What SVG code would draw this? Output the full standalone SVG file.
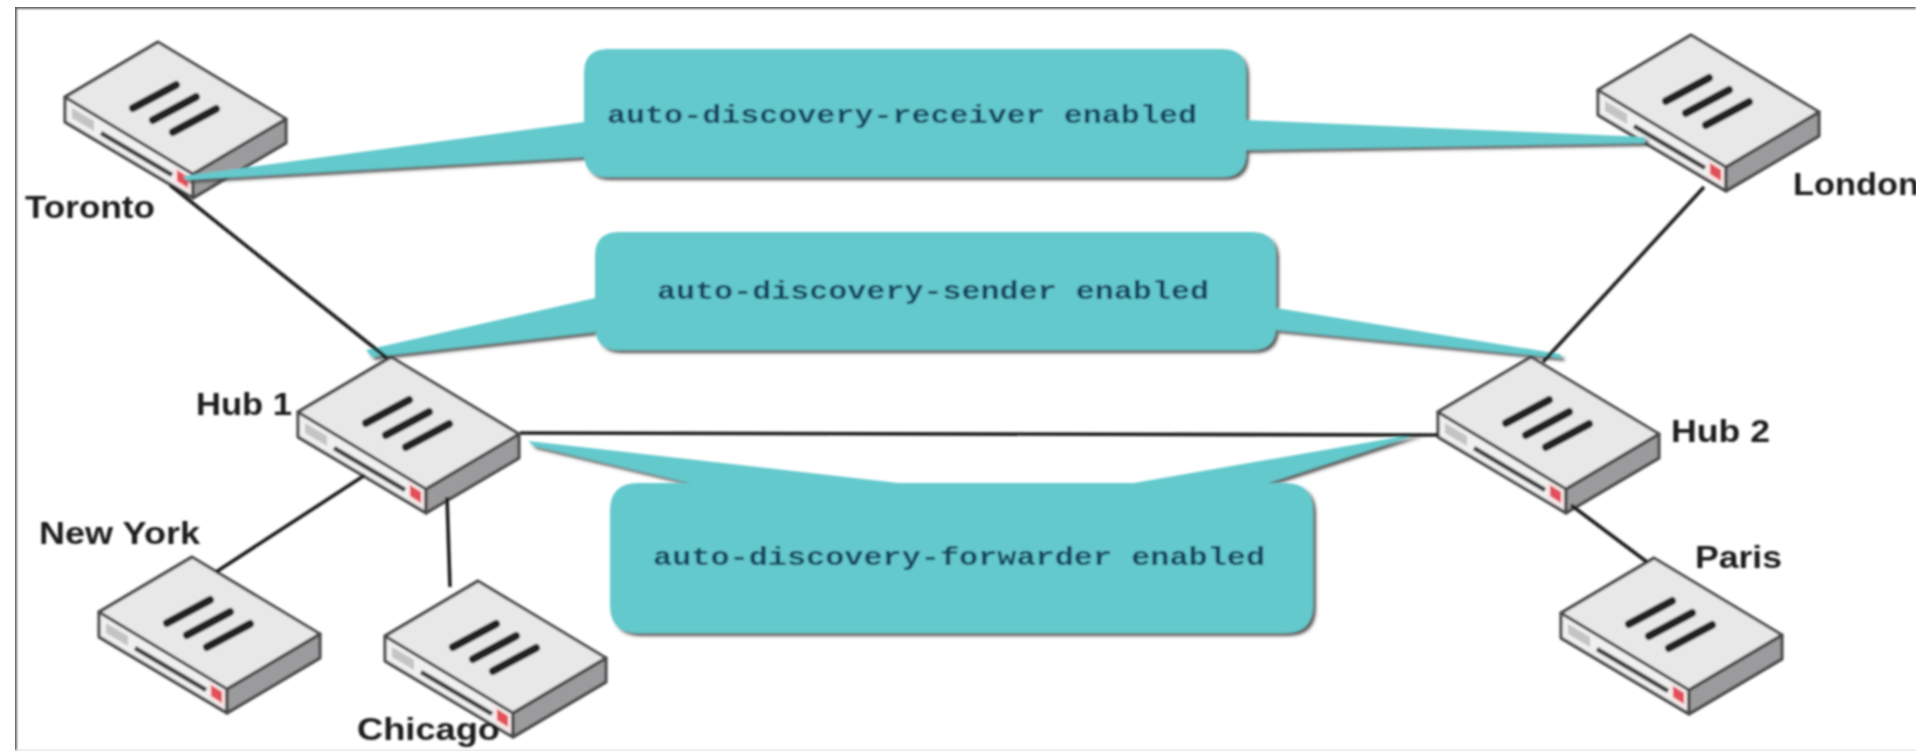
<svg xmlns="http://www.w3.org/2000/svg" width="1916" height="752" viewBox="0 0 1916 752">
<style>
.lbl{font-family:"Liberation Sans",Arial,sans-serif;font-size:32px;font-weight:bold;fill:#1f1f1f}
.mono{font-family:"Liberation Mono","Courier New",monospace;font-size:26px;font-weight:bold;fill:#174560}
.call{fill:#63c9cc}
.link{stroke:#1f1f1f;stroke-width:3.6;fill:none}
.edge{stroke:#4c4c4c;stroke-width:3.2;stroke-linejoin:round}
</style>
<defs>
<filter id="soft" x="0" y="0" width="100%" height="100%"><feGaussianBlur stdDeviation="1"/></filter>
<filter id="shadow" x="-5%" y="-10%" width="112%" height="125%"><feDropShadow dx="3" dy="3" stdDeviation="1.8" flood-color="#444" flood-opacity="0.9"/></filter>
<g id="dev">
<polygon class="edge" points="-93,55 35,132 35,156 -93,80" fill="#f0f0f0"/>
<polygon class="edge" points="35,132 128,77 128,101 35,156" fill="#9b9b9d"/>
<polygon class="edge" points="0,0 128,77 35,132 -93,55" fill="#e8e8e8"/>
<polygon points="-86,66 -64,79 -64,89 -86,76" fill="#c4c4c4"/>
<line x1="-57" y1="91" x2="14" y2="133" stroke="#3f3f3f" stroke-width="4.5"/>
<polygon points="16,124 33,134 33,151 16,141" fill="#f7e4e4"/>
<polygon points="19,128 30,135 30,146 19,139" fill="#e2505a"/>
<g stroke="#222" stroke-width="8" stroke-linecap="round">
<line x1="-25" y1="66" x2="18" y2="43"/>
<line x1="-5" y1="78" x2="38" y2="55"/>
<line x1="15" y1="90" x2="58" y2="67"/>
</g>
</g>
</defs>
<rect width="1916" height="752" fill="#fff"/>
<g filter="url(#soft)">
<path d="M15 751V7H1916" fill="none" stroke="#555" stroke-width="3.5"/>
<line x1="15" y1="751" x2="1916" y2="751" stroke="#ddd" stroke-width="2"/>

<g id="toronto"><use href="#dev" x="158" y="42"/><text class="lbl" x="25" y="218" textLength="130" lengthAdjust="spacingAndGlyphs">Toronto</text></g>
<g id="london"><use href="#dev" x="1691" y="35"/><text class="lbl" x="1793" y="195" textLength="126" lengthAdjust="spacingAndGlyphs">London</text></g>
<g id="hub1"><use href="#dev" x="391" y="357"/><text class="lbl" x="196" y="415" textLength="96" lengthAdjust="spacingAndGlyphs">Hub 1</text></g>
<g id="hub2"><use href="#dev" x="1531" y="357"/><text class="lbl" x="1671" y="442" textLength="99" lengthAdjust="spacingAndGlyphs">Hub 2</text></g>
<g id="newyork"><use href="#dev" x="192" y="557"/><text class="lbl" x="39" y="544" textLength="161" lengthAdjust="spacingAndGlyphs">New York</text></g>
<g id="chicago"><use href="#dev" x="478" y="581"/><text class="lbl" x="357" y="740" textLength="143" lengthAdjust="spacingAndGlyphs">Chicago</text></g>
<g id="paris"><use href="#dev" x="1654" y="558"/><text class="lbl" x="1695" y="568" textLength="87" lengthAdjust="spacingAndGlyphs">Paris</text></g>

<g id="callout-receiver">
<path class="call" filter="url(#shadow)" d="M608 49H1222Q1246 49 1246 73V120L1645 137V143L1246 150V153Q1246 177 1222 177H608Q584 177 584 153V157L186 180L183 176L584 122V73Q584 49 608 49Z"/>
<text class="mono" x="607" y="123" textLength="590" lengthAdjust="spacingAndGlyphs">auto-discovery-receiver enabled</text>
</g>
<g id="callout-sender">
<path class="call" filter="url(#shadow)" d="M619 232H1252Q1276 232 1276 256V308L1560 354L1562 358L1276 330V326Q1276 350 1252 350H619Q595 350 595 326V332L372 357L366 350L595 298V256Q595 232 619 232Z"/>
<text class="mono" x="657" y="299" textLength="552" lengthAdjust="spacingAndGlyphs">auto-discovery-sender enabled</text>
</g>
<g id="callout-forwarder">
<path class="call" filter="url(#shadow)" d="M638 483H690L534 446L528 441L898 483H1134L1422 433L1268 483H1285Q1313 483 1313 511V605Q1313 633 1285 633H638Q610 633 610 605V511Q610 483 638 483Z"/>
<text class="mono" x="653" y="565" textLength="612" lengthAdjust="spacingAndGlyphs">auto-discovery-forwarder enabled</text>
</g>

<g id="connectors">
<line class="link" x1="170" y1="185" x2="387" y2="358"/>
<line class="link" x1="1704" y1="187" x2="1543" y2="362"/>
<line class="link" x1="520" y1="433" x2="1438" y2="435"/>
<line class="link" x1="365" y1="475" x2="216" y2="572"/>
<line class="link" x1="447" y1="497" x2="450" y2="587"/>
<line class="link" x1="1571" y1="505" x2="1647" y2="562"/>
</g>
</g>
</svg>
